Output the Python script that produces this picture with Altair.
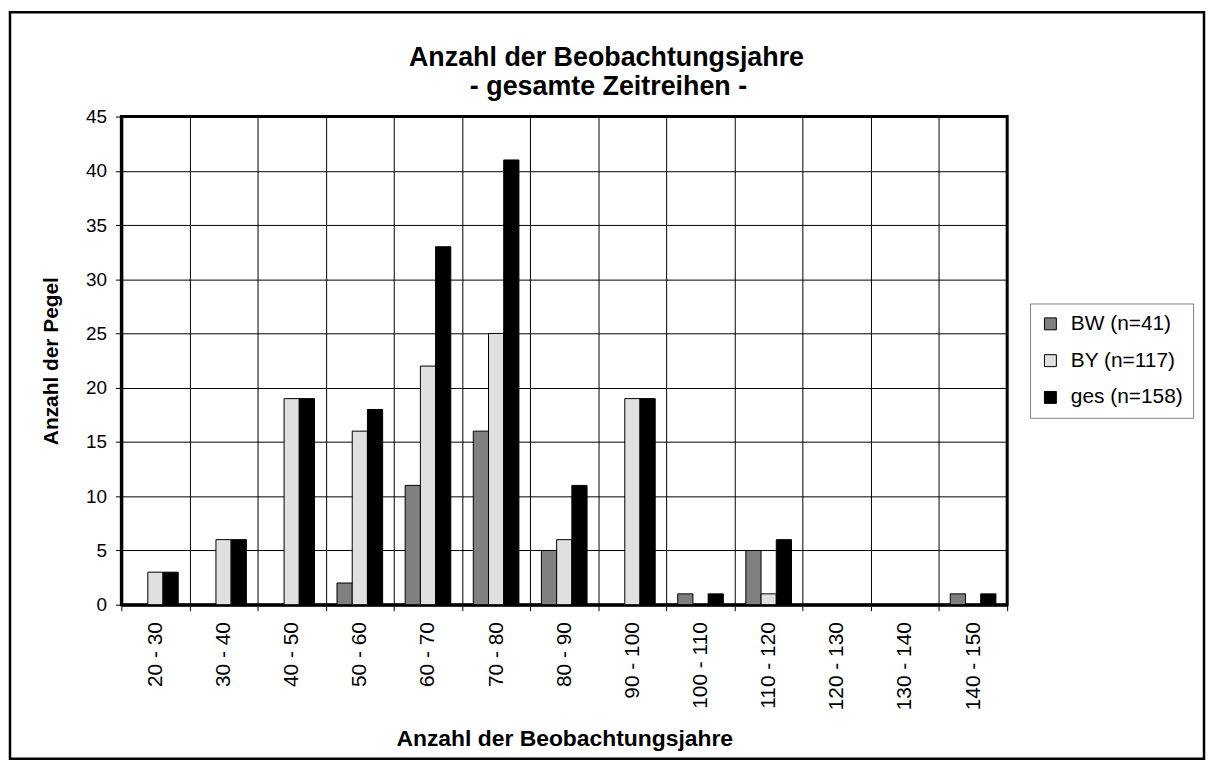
import altair as alt
import pandas as pd

# ---- data ----
categories = ["20 - 30", "30 - 40", "40 - 50", "50 - 60", "60 - 70", "70 - 80",
              "80 - 90", "90 - 100", "100 - 110", "110 - 120", "120 - 130",
              "130 - 140", "140 - 150"]
series = ["BW (n=41)", "BY (n=117)", "ges (n=158)"]
bw = [0, 0, 0, 2, 11, 16, 5, 0, 1, 5, 0, 0, 1]
by = [3, 6, 19, 16, 22, 25, 6, 19, 0, 1, 0, 0, 0]
ges = [3, 6, 19, 18, 33, 41, 11, 19, 1, 6, 0, 0, 1]
colors = ["#808080", "#E0E0E0", "#000000"]
y_ticks = [0, 5, 10, 15, 20, 25, 30, 35, 40, 45]
title_lines = ["Anzahl der Beobachtungsjahre", "- gesamte Zeitreihen -"]
x_title = "Anzahl der Beobachtungsjahre"
y_title = "Anzahl der Pegel"

FONT = "Liberation Sans"
W, H = 891, 491

rows = []
for name, vals in zip(series, [bw, by, ges]):
    for c, v in zip(categories, vals):
        rows.append({"Klasse": c, "Serie": name, "Anzahl": v})
df = pd.DataFrame(rows)

bars = alt.Chart(df).mark_bar(stroke="black", strokeWidth=1).encode(
    x=alt.X("Klasse:N", sort=categories,
            scale=alt.Scale(paddingInner=0, paddingOuter=0),
            axis=alt.Axis(title=x_title, labelAngle=270, labelFontSize=21,
                          labelPadding=11, tickBand="extent", grid=True,
                          gridColor="black", gridWidth=1, tickColor="black",
                          tickSize=6, domainColor="black", domainWidth=3,
                          titleFontSize=23, titleFontWeight="bold",
                          titlePadding=18, labelColor="black", titleColor="black")),
    xOffset=alt.XOffset("Serie:N", sort=series,
                        scale=alt.Scale(paddingInner=0, paddingOuter=0.74)),
    y=alt.Y("Anzahl:Q", scale=alt.Scale(domain=[0, 45], nice=False),
            axis=alt.Axis(title=y_title, values=y_ticks, labelFontSize=19,
                          labelPadding=9, tickSize=6, tickColor="black",
                          grid=True, gridColor="black", gridWidth=1,
                          domainColor="black", domainWidth=3,
                          titleFontSize=21, titleFontWeight="bold",
                          titlePadding=24, labelColor="black", titleColor="black")),
    color=alt.Color("Serie:N", sort=series,
                    scale=alt.Scale(domain=series, range=colors),
                    legend=alt.Legend(title=None, orient="none", legendX=914,
                                      legendY=188, strokeColor="#808080",
                                      fillColor="white", padding=10,
                                      rowPadding=15, labelFontSize=21,
                                      labelColor="black",
                                      symbolType="square", symbolSize=144,
                                      symbolStrokeColor="black",
                                      symbolStrokeWidth=1, labelOffset=10)),
)

one = pd.DataFrame({"k": [0]})

frame = alt.Chart(one).mark_rect(fill=None, fillOpacity=0, stroke="black",
                                 strokeWidth=2.5).encode(
    x=alt.value(-112), x2=alt.value(1089), y=alt.value(-105), y2=alt.value(646)
)

t1 = alt.Chart(one).mark_text(font=FONT, fontSize=27, fontWeight="bold",
                              align="center", baseline="alphabetic",
                              color="black").encode(
    x=alt.value(488), y=alt.value(-51), text=alt.value(title_lines[0]))
t2 = alt.Chart(one).mark_text(font=FONT, fontSize=27, fontWeight="bold",
                              align="center", baseline="alphabetic",
                              color="black").encode(
    x=alt.value(490), y=alt.value(-22), text=alt.value(title_lines[1]))

chart = alt.layer(bars, frame, t1, t2).properties(
    width=W, height=H, padding=0, background="white"
).configure(font=FONT).configure_view(
    stroke="black", strokeWidth=3
)

chart.save("out.html", embed_options={"renderer": "svg", "actions": False})
